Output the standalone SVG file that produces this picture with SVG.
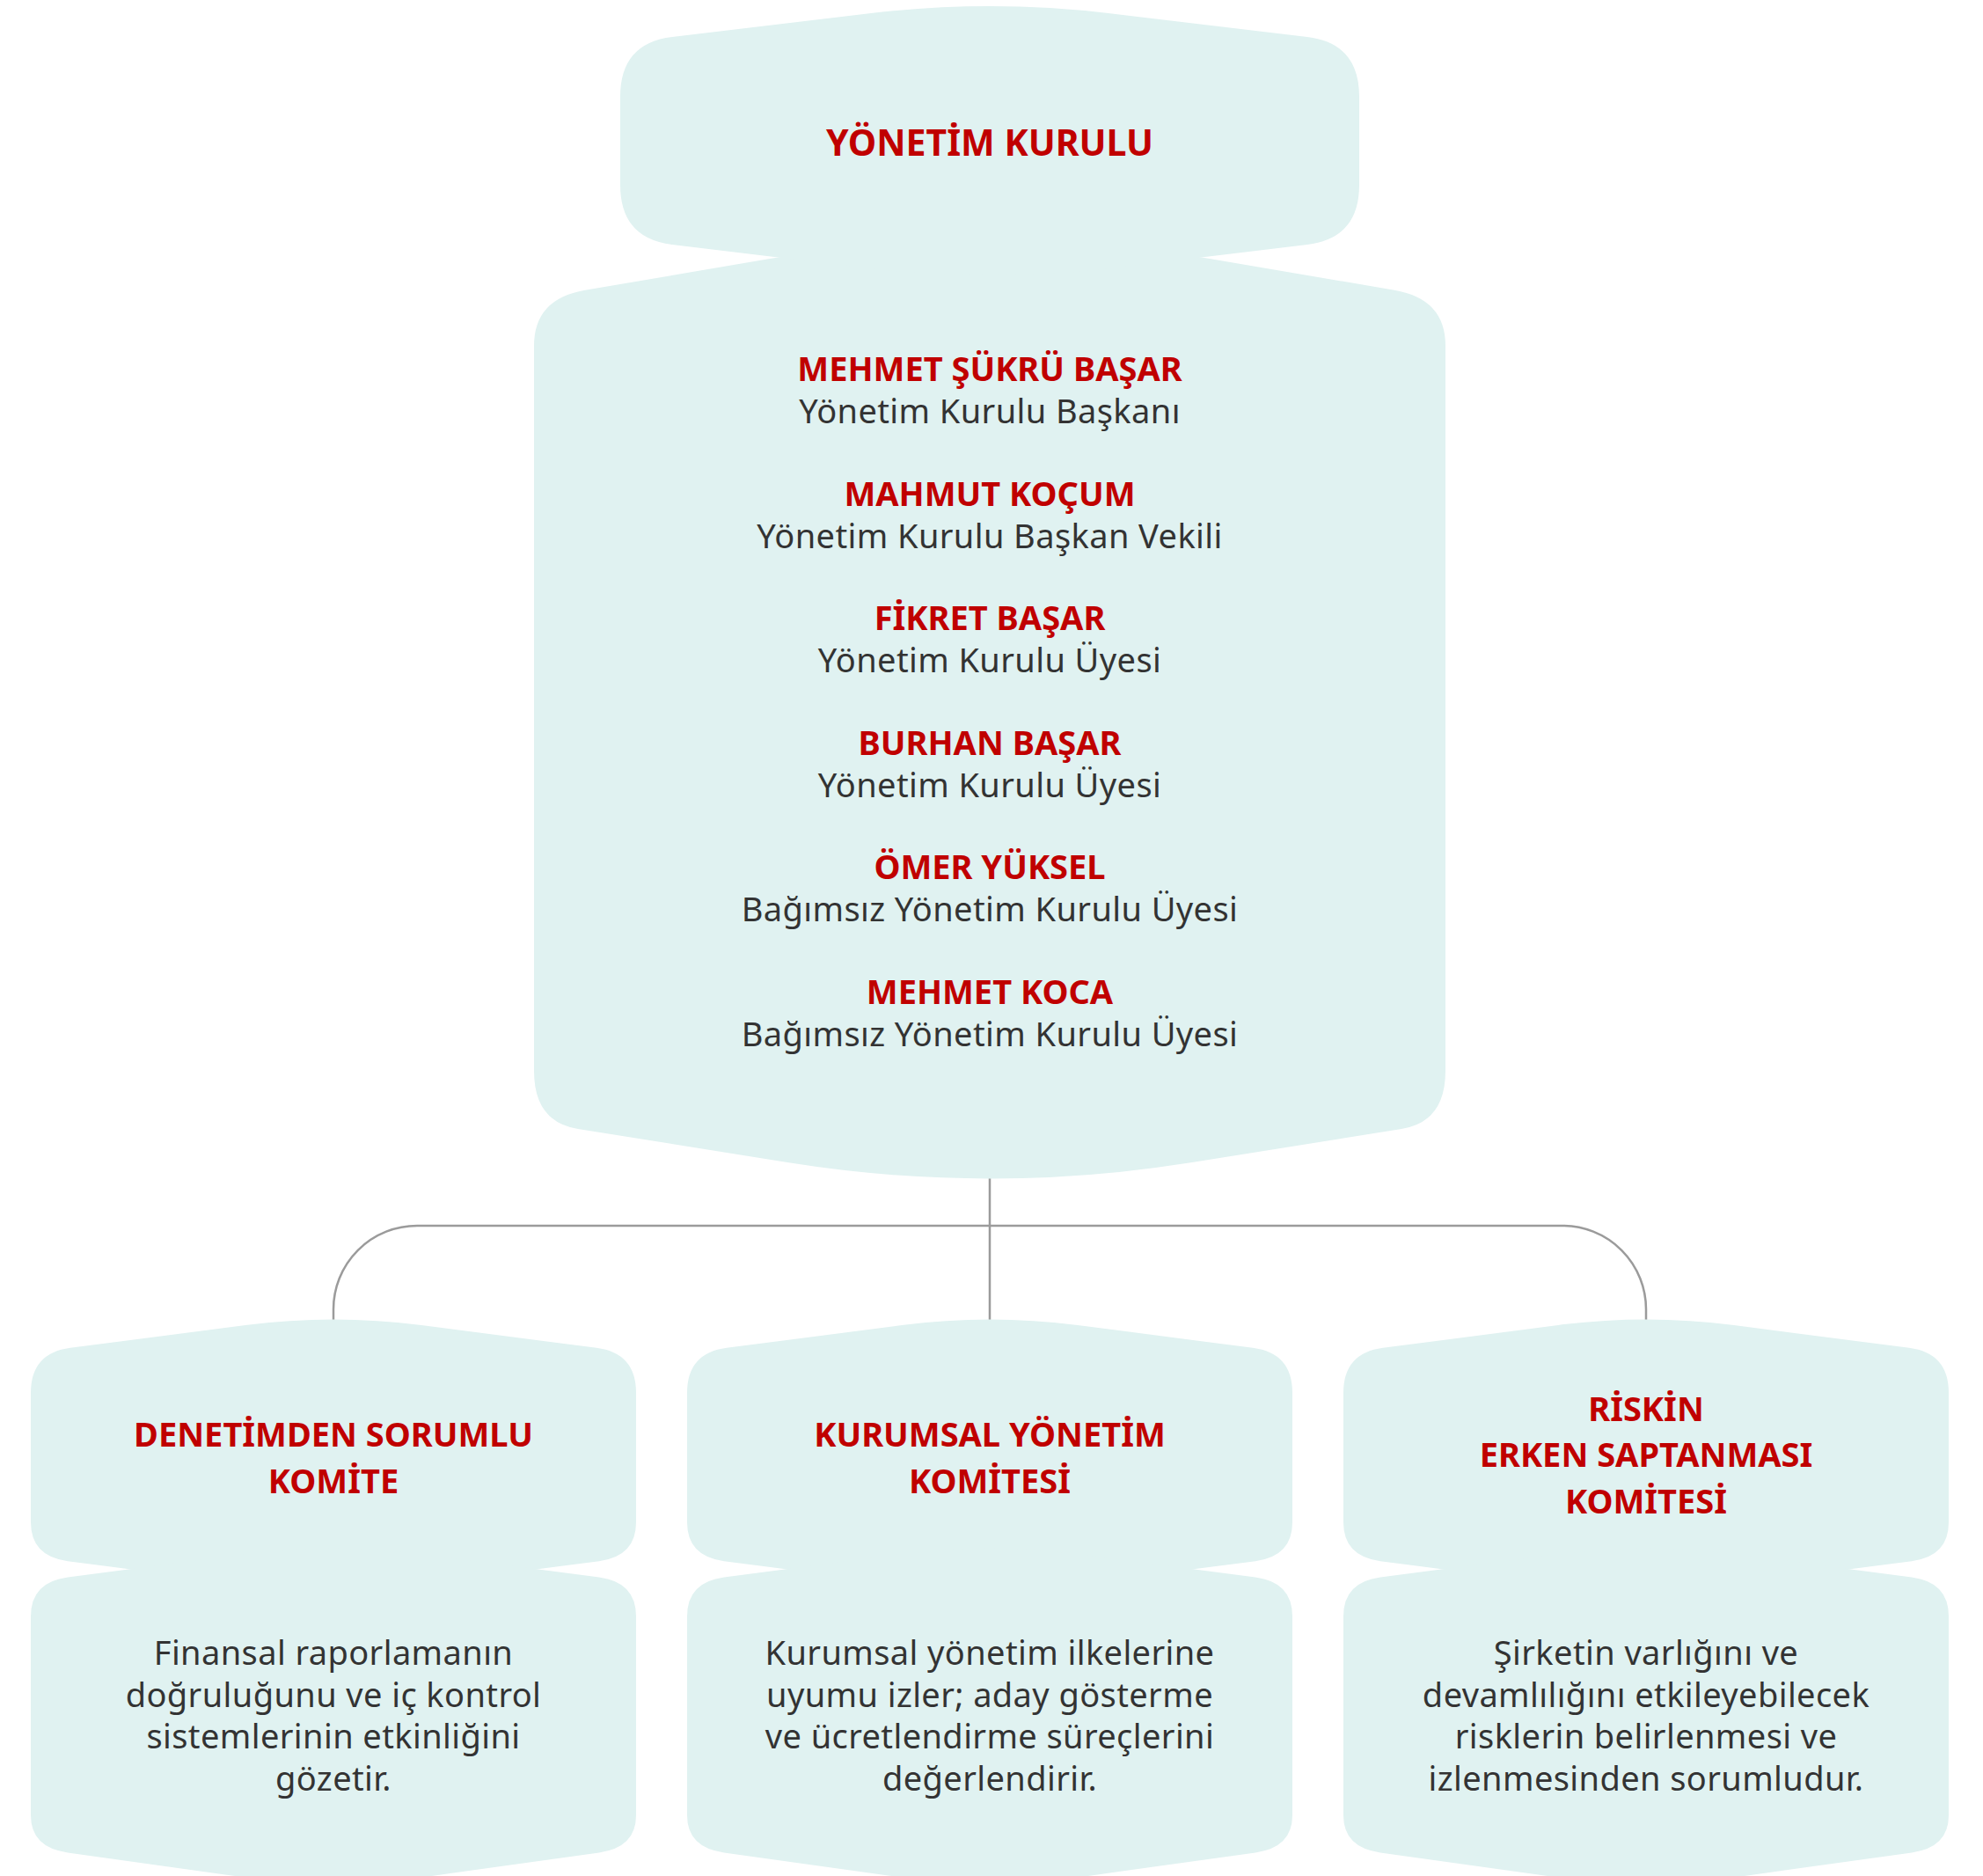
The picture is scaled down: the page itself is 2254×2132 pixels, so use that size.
<svg xmlns="http://www.w3.org/2000/svg" xmlns:xlink="http://www.w3.org/1999/xlink" width="2254" height="2132" viewBox="0 0 2254 2132">
<style>
.shape{fill:#e0f2f1;}
.t{font-family:"Noto Sans","DejaVu Sans",sans-serif;text-anchor:middle;}
.red{fill:#c00000;font-weight:700;font-size:38px;}
.big{font-size:41px;}
.gray{fill:#333333;font-size:38px;letter-spacing:0.4px;}
.conn{fill:none;stroke:#9b9b9b;stroke-width:2.5;}
</style>
<defs>
<path id="colTop" d="M35,1583 Q35,1537.7 80,1531.85 L279,1505.98 Q379,1492.98 479,1505.98 L678,1531.85 Q723,1537.7 723,1583 L723,1730 Q723,1768.7 681,1774.16 L479,1800.42 Q379,1813.42 279,1800.42 L77,1774.16 Q35,1768.7 35,1730 Z"/>
<path id="colBot" d="M35,1837 Q35,1797.9 77,1792.44 L279,1766.18 Q379,1753.18 479,1766.18 L681,1792.44 Q723,1797.9 723,1837 L723,2063 Q723,2099.5 681,2105.38 L479,2133.66 Q379,2147.66 279,2133.66 L77,2105.38 Q35,2099.5 35,2063 Z"/>
</defs>

<g id="connectors">
<path class="conn" d="M1125,1339 L1125,1500"/>
<path class="conn" d="M379,1500 L379,1488 A95,95 0 0 1 474,1393 L1776,1393 A95,95 0 0 1 1871,1488 L1871,1500"/>
</g>

<g id="uyeler">
<path class="shape" d="M607,393 Q607,339.6 665,329.74 L875,294.04 Q1125,251.54 1375,294.04 L1585,329.74 Q1643,339.6 1643,393 L1643,1217 Q1643,1275 1593,1283 L1355,1321.08 Q1125,1357.88 895,1321.08 L657,1283 Q607,1275 607,1217 Z"/>
<text class="t red" x="1125" y="433">MEHMET ŞÜKRÜ BAŞAR</text>
<text class="t gray" x="1125" y="481">Yönetim Kurulu Başkanı</text>
<text class="t red" x="1125" y="574.5">MAHMUT KOÇUM</text>
<text class="t gray" x="1125" y="622.5">Yönetim Kurulu Başkan Vekili</text>
<text class="t red" x="1125" y="716">FİKRET BAŞAR</text>
<text class="t gray" x="1125" y="764">Yönetim Kurulu Üyesi</text>
<text class="t red" x="1125" y="857.5">BURHAN BAŞAR</text>
<text class="t gray" x="1125" y="905.5">Yönetim Kurulu Üyesi</text>
<text class="t red" x="1125" y="999">ÖMER YÜKSEL</text>
<text class="t gray" x="1125" y="1047">Bağımsız Yönetim Kurulu Üyesi</text>
<text class="t red" x="1125" y="1140.5">MEHMET KOCA</text>
<text class="t gray" x="1125" y="1188.5">Bağımsız Yönetim Kurulu Üyesi</text>
</g>

<g id="yonetim-kurulu">
<path class="shape" d="M705,110 Q705,49.2 764,42.1 L988,15.24 Q1125,-1.2 1262,15.24 L1486,42.1 Q1545,49.2 1545,110 L1545,210 Q1545,270.8 1486,277.9 L1262,304.96 Q1125,321.2 988,304.96 L764,277.9 Q705,270.8 705,210 Z"/>
<text class="t red big" x="1125" y="177">YÖNETİM KURULU</text>
</g>

<g id="denetim-komitesi">
<use xlink:href="#colTop" href="#colTop" class="shape"/>
<use xlink:href="#colBot" href="#colBot" class="shape"/>
<text class="t red" x="379" y="1644">DENETİMDEN SORUMLU</text>
<text class="t red" x="379" y="1697">KOMİTE</text>
<text class="t gray" x="379" y="1891.5">Finansal raporlamanın</text>
<text class="t gray" x="379" y="1939.5">doğruluğunu ve iç kontrol</text>
<text class="t gray" x="379" y="1987.3">sistemlerinin etkinliğini</text>
<text class="t gray" x="379" y="2035">gözetir.</text>
</g>

<g id="kurumsal-yonetim-komitesi">
<use xlink:href="#colTop" href="#colTop" class="shape" x="746"/>
<use xlink:href="#colBot" href="#colBot" class="shape" x="746"/>
<text class="t red" x="1125" y="1644">KURUMSAL YÖNETİM</text>
<text class="t red" x="1125" y="1697">KOMİTESİ</text>
<text class="t gray" x="1125" y="1891.5">Kurumsal yönetim ilkelerine</text>
<text class="t gray" x="1125" y="1939.5">uyumu izler; aday gösterme</text>
<text class="t gray" x="1125" y="1987.3">ve ücretlendirme süreçlerini</text>
<text class="t gray" x="1125" y="2035">değerlendirir.</text>
</g>

<g id="riskin-erken-saptanmasi-komitesi">
<use xlink:href="#colTop" href="#colTop" class="shape" x="1492"/>
<use xlink:href="#colBot" href="#colBot" class="shape" x="1492"/>
<text class="t red" x="1871" y="1615">RİSKİN</text>
<text class="t red" x="1871" y="1667">ERKEN SAPTANMASI</text>
<text class="t red" x="1871" y="1720">KOMİTESİ</text>
<text class="t gray" x="1871" y="1891.5">Şirketin varlığını ve</text>
<text class="t gray" x="1871" y="1939.5">devamlılığını etkileyebilecek</text>
<text class="t gray" x="1871" y="1987.3">risklerin belirlenmesi ve</text>
<text class="t gray" x="1871" y="2035">izlenmesinden sorumludur.</text>
</g>
</svg>
